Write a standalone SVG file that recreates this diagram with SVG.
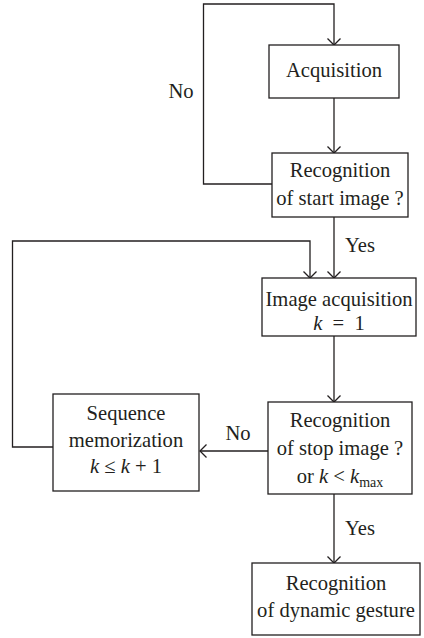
<svg xmlns="http://www.w3.org/2000/svg" width="424" height="638" viewBox="0 0 424 638">
<style>
.box{fill:#fff;stroke:#231f20;stroke-width:1.3}
.ln{fill:none;stroke:#231f20;stroke-width:1.3}
text{font-family:'Liberation Serif','DejaVu Serif',serif;font-size:20.6px;fill:#231f20}
.c{text-anchor:middle}
.i{font-style:italic}
</style>
<defs>
<marker id="ah" markerUnits="userSpaceOnUse" markerWidth="16" markerHeight="16" viewBox="-8 -8 16 16" refX="0" refY="0" orient="auto">
<path d="M-6.5,-6.5 L0,0 L-6.5,6.5" fill="none" stroke="#231f20" stroke-width="1.3"/>
</marker>
</defs>
<rect width="424" height="638" fill="#fff"/>
<g font-family="Liberation Serif, serif">
<g id="connectors">
<path class="ln" d="M272,184 H203.5 V4 H334 V45" marker-end="url(#ah)"/>
<path class="ln" d="M334,98 V153" marker-end="url(#ah)"/>
<path class="ln" d="M334,217 V278" marker-end="url(#ah)"/>
<path class="ln" d="M53,447 H12.5 V241 H310 V278" marker-end="url(#ah)"/>
<path class="ln" d="M334,336 V402" marker-end="url(#ah)"/>
<path class="ln" d="M268,451 H200" marker-end="url(#ah)"/>
<path class="ln" d="M334,494 V563" marker-end="url(#ah)"/>
<text x="181" y="98" class="c">No</text>
<text x="360" y="252" class="c">Yes</text>
<text x="238" y="440" class="c">No</text>
<text x="360" y="535" class="c">Yes</text>
</g>
<g id="acquisition">
<rect class="box" x="269" y="45" width="130" height="53"/>
<text x="334" y="77" class="c">Acquisition</text>
</g>
<g id="start">
<rect class="box" x="272" y="153" width="136" height="64"/>
<text x="340" y="177" class="c">Recognition</text>
<text x="340" y="205" class="c">of start image ?</text>
</g>
<g id="imageacq">
<rect class="box" x="262" y="278" width="154" height="58"/>
<text x="339" y="306" class="c">Image acquisition</text>
<text x="339" y="330" class="c" xml:space="preserve"><tspan class="i">k</tspan>  =  1</text>
</g>
<g id="stop">
<rect class="box" x="268" y="402" width="144" height="92"/>
<text x="340" y="427" class="c">Recognition</text>
<text x="340" y="455" class="c">of stop image ?</text>
<text x="340" y="483" class="c">or <tspan class="i">k</tspan> &lt; <tspan class="i">k</tspan><tspan font-size="14" dy="4">max</tspan></text>
</g>
<g id="sequence">
<rect class="box" x="53" y="394" width="146" height="97"/>
<text x="126" y="420" class="c">Sequence</text>
<text x="126" y="447" class="c">memorization</text>
<text x="126" y="473" class="c"><tspan class="i">k</tspan> ≤ <tspan class="i">k</tspan> + 1</text>
</g>
<g id="dynamic">
<rect class="box" x="252" y="563" width="168" height="72"/>
<text x="336" y="590" class="c">Recognition</text>
<text x="336" y="617" class="c">of dynamic gesture</text>
</g>
</g>
</svg>
